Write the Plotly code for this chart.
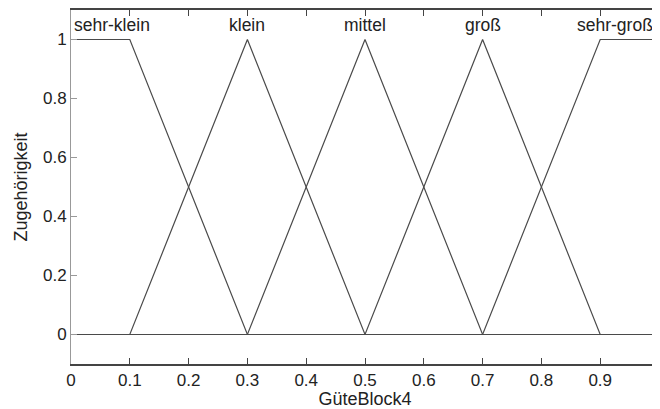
import plotly.graph_objects as go

x_mf = {
    "sehr-klein": [0.0, 0.1, 0.3, 1.0],
    "klein": [0.0, 0.1, 0.3, 0.5, 1.0],
    "mittel": [0.0, 0.3, 0.5, 0.7, 1.0],
    "groß": [0.0, 0.5, 0.7, 0.9, 1.0],
    "sehr-groß": [0.0, 0.7, 0.9, 1.0],
}
y_mf = {
    "sehr-klein": [1, 1, 0, 0],
    "klein": [0, 0, 1, 0, 0],
    "mittel": [0, 0, 1, 0, 0],
    "groß": [0, 0, 1, 0, 0],
    "sehr-groß": [0, 0, 1, 1],
}
label_x = {"sehr-klein": 0.07, "klein": 0.3, "mittel": 0.5, "groß": 0.7, "sehr-groß": 0.925}
x_ticks = [0, 0.1, 0.2, 0.3, 0.4, 0.5, 0.6, 0.7, 0.8, 0.9]
x_ticklabels = ["0", "0.1", "0.2", "0.3", "0.4", "0.5", "0.6", "0.7", "0.8", "0.9"]
y_ticks = [0, 0.2, 0.4, 0.6, 0.8, 1]
y_ticklabels = ["0", "0.2", "0.4", "0.6", "0.8", "1"]

fig = go.Figure()
for name in x_mf:
    fig.add_trace(go.Scatter(x=x_mf[name], y=y_mf[name], mode="lines",
                             line=dict(color="#4a4a4a", width=1.2), showlegend=False, hoverinfo="skip"))
    fig.add_annotation(x=label_x[name], y=1.05, text=name, showarrow=False,
                       font=dict(size=17.5, color="#222222"), xanchor="center", yanchor="middle")

# page body has an 8px default margin, so the figure is sized/placed to compensate
fig.update_layout(
    width=652, height=401,
    margin=dict(l=63, r=1, t=2, b=45),
    paper_bgcolor="white", plot_bgcolor="white",
    font=dict(family="Liberation Sans, Arial, sans-serif", size=17, color="#222222"),
    xaxis=dict(range=[0, 1], tickvals=x_ticks, ticktext=x_ticklabels, ticks="inside", ticklen=6,
               tickcolor="#444444", showgrid=False, zeroline=False, showline=True, linecolor="#444444",
               linewidth=1.5, mirror="ticks", automargin=False, tickfont=dict(size=17),
               ticklabelstandoff=0,
               title=dict(text="GüteBlock4", font=dict(size=18), standoff=2)),
    yaxis=dict(range=[-0.1, 1.1], tickvals=y_ticks, ticktext=y_ticklabels, ticks="inside", ticklen=6,
               tickcolor="#999999", showgrid=False, zeroline=False, showline=True, linecolor="#999999",
               linewidth=1, mirror="ticks", automargin=False, tickfont=dict(size=17),
               title=dict(text="Zugehörigkeit", font=dict(size=18), standoff=10)),
)
fig.write_html("out.html")
